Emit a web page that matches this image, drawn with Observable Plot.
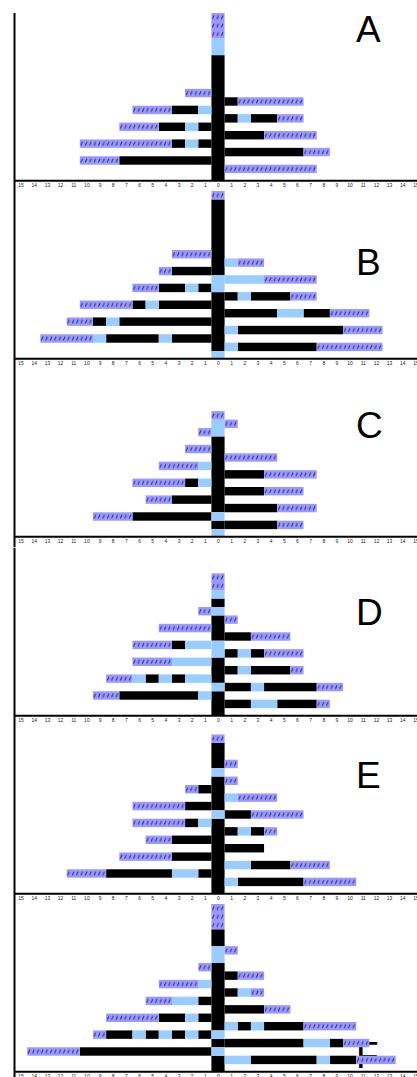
<!DOCTYPE html>
<html>
<head>
<meta charset="utf-8">
<script src="https://cdn.jsdelivr.net/npm/d3@7"></script>
<script src="https://cdn.jsdelivr.net/npm/@observablehq/plot@0.6"></script>
<style>
html, body { margin: 0; padding: 0; background: #fff; overflow: hidden; }
#wrap { position: relative; width: 417px; height: 1077px; overflow: hidden; background: #fff; }
#wrap svg.panel { position: absolute; left: 0; max-width: none; }
</style>
</head>
<body>
<svg width="0" height="0" style="position:absolute">
  <defs>
    <pattern id="hatch" patternUnits="userSpaceOnUse">
      <rect class="bg"></rect>
      <line class="slash"></line>
    </pattern>
  </defs>
</svg>
<div id="wrap"></div>
<script>
// ---------------- data ----------------
// Panel letters and where their label sits (row units, x units)
const panelNames = ["A", "B", "C", "D", "E", "F"];
const labelX = 10.45;
const labelRows = [17.07, 10.52, 12.22, 11.36, 13.06, 0.98];

// Trunk (centre column) cells from row -1 upward.
// B = black, L = light blue, H = hatched purple
const trunkA = "BBBBBBBBBBBBBBBLLHHH";
const trunkB = "LBBBBBBBLLBBBBBBBBBH";
const trunkC = "LBLBBBBBBBBBLLH";
const trunkD = "BBBLBBBLLBBBLBLHH";
const trunkE = "BBBBBBBBBLBBBBLBBBH";
const trunkF = "BBLBLBBBBBBBBLLBBHHH";

// Branch rows from row 0 upward: "+" = right side, "-" = left side,
// cells listed from the trunk outward.
const branchesA = ["+HHHHHHH", "-BBBBBBBHHH", "+BBBBBBHH", "-BLBHHHHHHH", "+BBBHHHH",
                   "-BLBBHHH", "+BLBBHH", "-LBBHHH", "+BHHHHH", "-HH"];
const branchesB = ["+LBBBBBBHHHHH", "-BBBLBBBBLHHHH", "+LBBBBBBBBHHH", "-BBBBBBBLBHH",
                   "+BBBBLLBBHHH", "-BBBBLBHHHH", "+BLBBBHH", "-BLBBHH", "+LLLHHHH",
                   "-BBBH", "+LHH", "-HHH"];
const branchesC = ["+BBBBHH", "-BBBBBBHHH", "+BBBBHHH", "-BBBHH", "+BBBHHH", "-LBHHHH",
                   "+BBBHHHH", "-LHHH", "+HHHH", "-HH", "", "-H", "+H"];
const branchesD = ["+BBLLBBBH", "-LBBBBBBHH", "+BBLBBBBHH", "-LLBLBLHH", "+BLBBBH",
                   "-LLLHHH", "+BLBHHH", "-LLBHHH", "+BBHHH", "-HHHH", "+H", "-H"];
const branchesE = ["+LBBBBBHHHH", "-BLLBBBBBHHH", "+LLBBBHHH", "-BBBHHHH", "+BBB",
                   "-BBBHH", "+BLBH", "-LBHHHH", "+BBHHHH", "-BBHHHH", "+LHHH",
                   "-BH", "+H", "", "+H"];
const branchesF = ["+LLBBBBBLBBHHH", "-BBBBBBBBBBHHHH", "+BBBBBBLLBHH", "-BLBLBLBBH",
                   "+LBLBBBHHHH", "-BLBBHHHH", "+BBBHH", "-BLLHH", "+BLH", "-LHHH",
                   "+BHH", "-H", "", "+H"];

const trunks = [trunkA, trunkB, trunkC, trunkD, trunkE, trunkF];
const branches = [branchesA, branchesB, branchesC, branchesD, branchesE, branchesF];

// x axis ticks (labels shown as absolute values)
const xTicks = d3.range(-15, 16);

// ---------------- layout & style ----------------
const W = 422, ML = 14, MR = 0, MT = 0, MB = 11;
const panelH = 178.3, topOffset = 12.7;
const xDomain = [-15.5, 15.5];
const yDomain = [-0.85, 19];
const colors = {B: "#000000", L: "#99ccff", H: "url(#hatch)"};
const purple = "#9999ff", slashColor = "#333377";

const cellW = (W - ML - MR) / (xDomain[1] - xDomain[0]);
const rowH = (panelH - MT - MB) / (yDomain[1] - yDomain[0]);

// hatch pattern: three slashes per cell
{
  const pw = cellW / 3;
  const edge = ML + (-0.5 - xDomain[0]) * cellW;
  const pat = d3.select("#hatch")
    .attr("width", pw).attr("height", rowH)
    .attr("x", edge % pw).attr("y", (MT + yDomain[1] * rowH) % rowH);
  pat.select("rect.bg").attr("width", pw).attr("height", rowH).attr("fill", purple);
  pat.select("line.slash")
    .attr("x1", pw * 0.25).attr("y1", rowH * 0.72)
    .attr("x2", pw * 0.62).attr("y2", rowH * 0.27)
    .attr("stroke", slashColor).attr("stroke-width", 1.05);
}

function runs(s) {
  const out = [];
  let i = 0;
  while (i < s.length) {
    let j = i;
    while (j < s.length && s[j] === s[i]) j++;
    out.push({type: s[i], start: i, end: j});
    i = j;
  }
  return out;
}

function segments(trunk, rows) {
  const segs = [];
  for (const r of runs(trunk)) {
    segs.push({x1: -0.5, x2: 0.5, y1: r.start - 1, y2: r.end - 1, type: r.type});
  }
  rows.forEach((b, row) => {
    if (!b) return;
    const sign = b[0] === "-" ? -1 : 1;
    for (const r of runs(b.slice(1))) {
      const a = sign * (0.5 + r.start), c = sign * (0.5 + r.end);
      segs.push({x1: Math.min(a, c), x2: Math.max(a, c), y1: row, y2: row + 1, type: r.type});
    }
  });
  return segs;
}

const wrap = document.getElementById("wrap");
panelNames.forEach((name, k) => {
  const segs = segments(trunks[k], branches[k]);
  const marks = [
    Plot.text([name], {x: labelX, y: labelRows[k], text: d => d, textAnchor: "start",
      fontSize: 37, fontFamily: "Liberation Sans, Arial, sans-serif", fill: "black"}),
    ...["B", "L", "H"].map(t => Plot.rect(segs.filter(d => d.type === t), {
      x1: "x1", x2: "x2", y1: "y1", y2: "y2", fill: colors[t], clip: true
    })),
    Plot.ruleY([yDomain[0]], {stroke: "black", strokeWidth: 2}),
    Plot.ruleX([xDomain[0]], {y1: yDomain[0] - MB / rowH, y2: yDomain[1], stroke: "black", strokeWidth: 2})
  ];
  const svg = Plot.plot({
    width: W, height: panelH,
    marginLeft: ML, marginRight: MR, marginTop: MT, marginBottom: MB,
    x: {domain: xDomain, ticks: xTicks, tickFormat: d => Math.abs(d), tickSize: 0, tickPadding: 2.3, label: null},
    y: {domain: yDomain, axis: null},
    style: {fontSize: "5px", fontFamily: "Liberation Sans, Arial, sans-serif", background: "transparent", color: "#222"},
    marks
  });
  svg.classList.add("panel");
  svg.style.top = (topOffset + panelH * k) + "px";
  svg.style.width = W + "px";
  svg.style.height = panelH + "px";
  svg.style.maxWidth = "none";
  wrap.appendChild(svg);
});
</script>
</body>
</html>
